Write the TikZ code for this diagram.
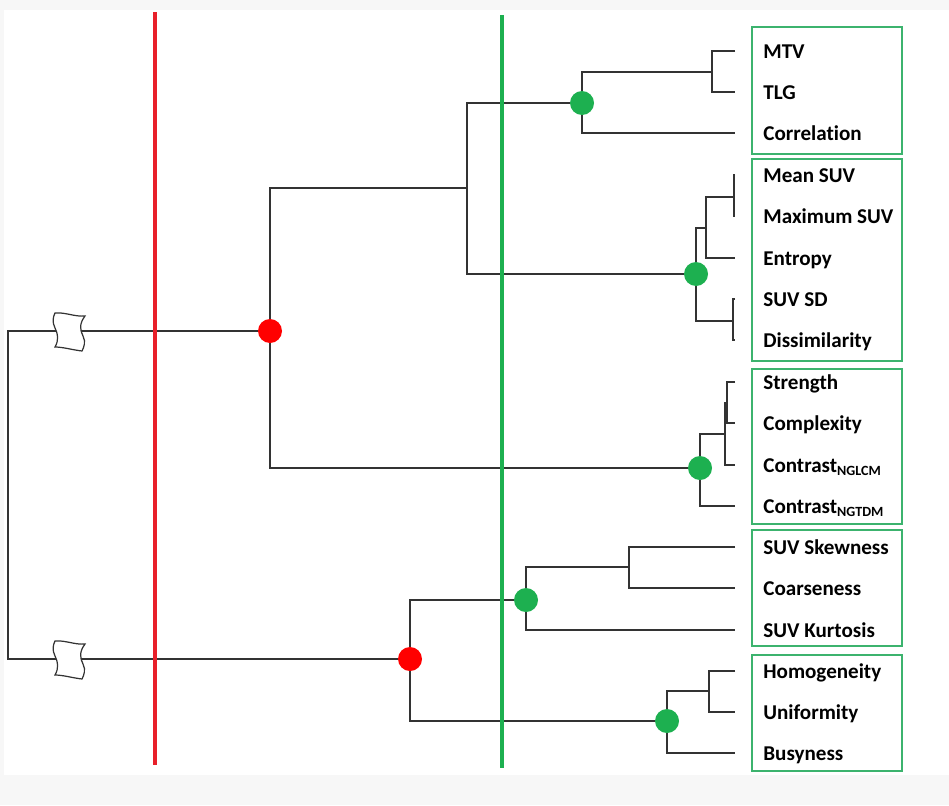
\documentclass[tikz,border=0pt]{standalone}
\usepackage{fontspec}
\setmainfont{Carlito}[Ligatures=CommonOff]

\definecolor{cutred}{HTML}{E8202A}
\definecolor{cutgreen}{HTML}{1DB050}
\definecolor{boxgreen}{HTML}{3CB36E}
\definecolor{treegray}{HTML}{333333}
\definecolor{pagegray}{HTML}{F7F7F7}

\tikzset{
	leaf/.style={anchor=base west,inner sep=0pt,font=\bfseries\fontsize{12}{14}\selectfont},
	gdot/.style={circle,fill=cutgreen,inner sep=0pt,minimum size=0.48cm},
	rdot/.style={circle,fill=red,inner sep=0pt,minimum size=0.48cm},
	tree/.style={draw=treegray,line width=0.85pt},
	cluster/.style={draw=boxgreen,line width=1.1pt},
	brk/.pic={
		\draw[treegray,fill=white,line width=0.7pt]
			(-14,-19) .. controls (-4,-20) and (6,-15) .. (16,-16)
			.. controls (10,-8) and (11,-2) .. (14,4)
			.. controls (17,10) and (15,15) .. (13,19)
			.. controls (4,18) and (-6,15) .. (-14,15)
			.. controls (-10,8) and (-11,2) .. (-14,-4)
			.. controls (-17,-10) and (-16,-15) .. (-14,-19) -- cycle;
	}
}

\begin{document}
\begin{tikzpicture}[x=0.02cm,y=-0.02cm]
	% page
	\fill[pagegray] (0,0) rectangle (949,805);
	\fill[white] (4,10) rectangle (949,775);

	% leaf ends
	\coordinate (mtv) at (735,51);
	\coordinate (tlg) at (735,92);
	\coordinate (corr) at (735,133);
	\coordinate (mean) at (735,175);
	\coordinate (max) at (735,216);
	\coordinate (entropy) at (735,258);
	\coordinate (suvsd) at (735,299);
	\coordinate (dissim) at (735,340);
	\coordinate (strength) at (735,382);
	\coordinate (complexity) at (735,423);
	\coordinate (nglcm) at (735,465);
	\coordinate (ngtdm) at (735,506);
	\coordinate (skew) at (735,547);
	\coordinate (coarse) at (735,588);
	\coordinate (kurt) at (735,630);
	\coordinate (homog) at (735,671);
	\coordinate (unif) at (735,712);
	\coordinate (busy) at (735,753);

	% inner joins
	\coordinate (j-mt) at (712,72);
	\coordinate (j-mm) at (734,197);
	\coordinate (j-mme) at (706,228);
	\coordinate (j-sd) at (733,321);
	\coordinate (j-top) at (467,188);
	\coordinate (j-sc) at (727,403);
	\coordinate (j-scn) at (725,434);
	\coordinate (j-sk) at (629,567);
	\coordinate (j-hu) at (709,691);
	\coordinate (root) at (8,495);

	% cluster dots
	\node[gdot] (g1) at (582,103) {};
	\node[gdot] (g2) at (696,274) {};
	\node[gdot] (g3) at (700,468) {};
	\node[gdot] (g4) at (526,600) {};
	\node[gdot] (g5) at (667,721) {};
	\node[rdot] (r1) at (270,331) {};
	\node[rdot] (r2) at (410,659) {};

	% tree
	\draw[tree] (mtv) -| (j-mt) |- (tlg);
	\draw[tree] (j-mt) -| (g1) |- (corr);
	\draw[tree] (mean) -| (j-mm) |- (max);
	\draw[tree] (j-mm) -| (j-mme) |- (entropy);
	\draw[tree] (suvsd) -| (j-sd) |- (dissim);
	\draw[tree] (j-mme) -| (g2) |- (j-sd);
	\draw[tree] (g1) -| (j-top) |- (g2);
	\draw[tree] (strength) -| (j-sc) |- (complexity);
	\draw[tree] (j-sc) -| (j-scn) |- (nglcm);
	\draw[tree] (j-scn) -| (g3) |- (ngtdm);
	\draw[tree] (j-top) -| (r1) |- (g3);
	\draw[tree] (skew) -| (j-sk) |- (coarse);
	\draw[tree] (j-sk) -| (g4) |- (kurt);
	\draw[tree] (homog) -| (j-hu) |- (unif);
	\draw[tree] (j-hu) -| (g5) |- (busy);
	\draw[tree] (g4) -| (r2) |- (g5);
	\draw[tree] (r1) -| (root) |- (r2);

	% axis breaks
	\pic at (69,332) {brk};
	\pic at (69,660) {brk};

	% cut levels
	\draw[cutred,line width=2pt] (155,12) -- (155,765);
	\draw[cutgreen,line width=1.8pt] (502,15) -- (502,768);

	% clusters
	\draw[cluster] (752,27) rectangle (902,154);
	\draw[cluster] (752,159) rectangle (902,361);
	\draw[cluster] (752,369) rectangle (902,524);
	\draw[cluster] (752,530) rectangle (902,646);
	\draw[cluster] (752,655) rectangle (902,771);

	% labels
	\node[leaf] (mtv-txt) at (763,58) {MTV};
	\node[leaf] (tlg-txt) at (763,99) {TLG};
	\node[leaf] (corr-txt) at (763,140) {Correlation};
	\node[leaf] (mean-txt) at (763,182) {Mean SUV};
	\node[leaf] (max-txt) at (763,223) {Maximum SUV};
	\node[leaf] (entropy-txt) at (763,265) {Entropy};
	\node[leaf] (suvsd-txt) at (763,306) {SUV SD};
	\node[leaf] (dissim-txt) at (763,347) {Dissimilarity};
	\node[leaf] (strength-txt) at (763,389) {Strength};
	\node[leaf] (complexity-txt) at (763,430) {Complexity};
	\node[leaf] (nglcm-txt) at (763,472) {Contrast\textsubscript{NGLCM}};
	\node[leaf] (ngtdm-txt) at (763,513) {Contrast\textsubscript{NGTDM}};
	\node[leaf] (skew-txt) at (763,554) {SUV Skewness};
	\node[leaf] (coarse-txt) at (763,595) {Coarseness};
	\node[leaf] (kurt-txt) at (763,637) {SUV Kurtosis};
	\node[leaf] (homog-txt) at (763,678) {Homogeneity};
	\node[leaf] (unif-txt) at (763,719) {Uniformity};
	\node[leaf] (busy-txt) at (763,760) {Busyness};
\end{tikzpicture}
\end{document}
